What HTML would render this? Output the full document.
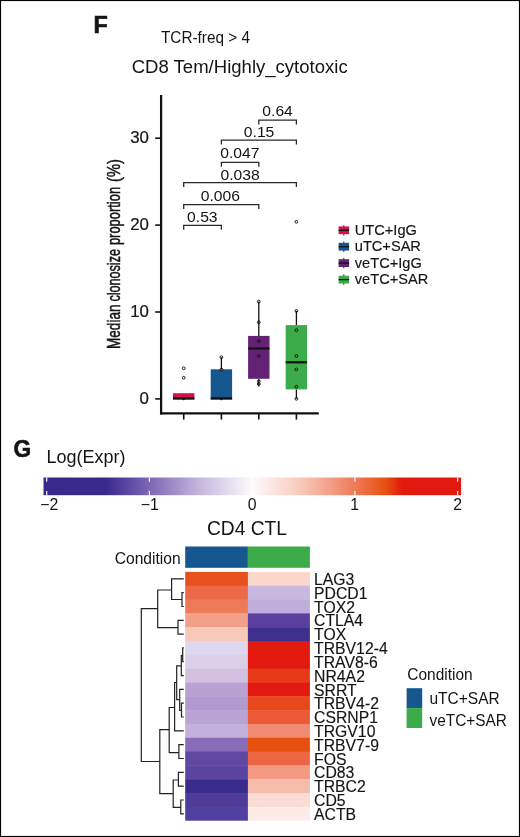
<!DOCTYPE html>
<html lang="en"><head><meta charset="utf-8"><title>Figure F-G</title>
<style>html,body{margin:0;padding:0;background:#fff}body{width:520px;height:837px;overflow:hidden}svg{display:block;will-change:transform}text{font-family:"Liberation Sans", Arial, Helvetica, sans-serif;fill:#141414}</style></head><body>
<svg width="520" height="837" viewBox="0 0 520 837">
<rect x="0" y="0" width="520" height="837" fill="#fff"/>
<rect x="0.5" y="0.5" width="519" height="836" fill="none" stroke="#000" stroke-width="1.15"/>
<text transform="translate(93.6,33.1) scale(1.01,1)" font-size="23.2" font-weight="bold" stroke="#141414" stroke-width="0.6">F</text>
<text x="161.00" y="43.00" font-size="16" text-anchor="start" textLength="89.00" lengthAdjust="spacingAndGlyphs" >TCR-freq &gt; 4</text>
<text x="131.70" y="73.30" font-size="19.2" text-anchor="start" textLength="216.00" lengthAdjust="spacingAndGlyphs" >CD8 Tem/Highly_cytotoxic</text>
<g stroke="#111" fill="none">
<line x1="161.1" y1="95" x2="161.1" y2="414.40000000000003" stroke-width="2.25"/>
<line x1="160.0" y1="413.3" x2="318.8" y2="413.3" stroke-width="2.25"/>
<line x1="155.2" y1="398.9" x2="161.1" y2="398.9" stroke-width="1.6"/>
<line x1="155.2" y1="312.0" x2="161.1" y2="312.0" stroke-width="1.6"/>
<line x1="155.2" y1="225.1" x2="161.1" y2="225.1" stroke-width="1.6"/>
<line x1="155.2" y1="138.2" x2="161.1" y2="138.2" stroke-width="1.6"/>
<line x1="183.7" y1="413.3" x2="183.7" y2="419.6" stroke-width="1.6"/>
<line x1="221.4" y1="413.3" x2="221.4" y2="419.6" stroke-width="1.6"/>
<line x1="258.8" y1="413.3" x2="258.8" y2="419.6" stroke-width="1.6"/>
<line x1="296.4" y1="413.3" x2="296.4" y2="419.6" stroke-width="1.6"/>
</g>
<text x="149.00" y="403.70" font-size="16.2" text-anchor="end" textLength="9.39" lengthAdjust="spacingAndGlyphs" stroke="#141414" stroke-width="0.2">0</text>
<text x="149.00" y="316.80" font-size="16.2" text-anchor="end" textLength="18.78" lengthAdjust="spacingAndGlyphs" stroke="#141414" stroke-width="0.2">10</text>
<text x="149.00" y="229.90" font-size="16.2" text-anchor="end" textLength="18.78" lengthAdjust="spacingAndGlyphs" stroke="#141414" stroke-width="0.2">20</text>
<text x="149.00" y="143.00" font-size="16.2" text-anchor="end" textLength="18.78" lengthAdjust="spacingAndGlyphs" stroke="#141414" stroke-width="0.2">30</text>
<text transform="translate(119.9,348) rotate(-90)" font-size="18.8" stroke="#141414" stroke-width="0.5"><tspan x="-0.9" textLength="44.3" lengthAdjust="spacingAndGlyphs">Median</tspan><tspan x="46.4" textLength="52.6" lengthAdjust="spacingAndGlyphs">clonosize</tspan><tspan x="102.9" textLength="58.2" lengthAdjust="spacingAndGlyphs">proportion</tspan><tspan x="166.0" textLength="22.9" lengthAdjust="spacingAndGlyphs">(%)</tspan></text>
<g stroke="#2a2a2a" stroke-width="1.3" fill="none">
<path d="M258.8 124.60000000000001V120.2H296.4V124.60000000000001"/>
<path d="M221.4 144.6V140.2H296.4V144.6"/>
<path d="M221.4 166.70000000000002V162.3H258.8V166.70000000000002"/>
<path d="M183.7 187.1V182.7H296.4V187.1"/>
<path d="M183.7 209.0V204.6H258.8V209.0"/>
<path d="M183.7 229.70000000000002V225.3H221.4V229.70000000000002"/>
</g>
<text x="277.60" y="115.50" font-size="15.0" text-anchor="middle" textLength="30.52" lengthAdjust="spacingAndGlyphs" >0.64</text>
<text x="259.10" y="136.90" font-size="15.0" text-anchor="middle" textLength="30.52" lengthAdjust="spacingAndGlyphs" >0.15</text>
<text x="239.80" y="158.20" font-size="15.0" text-anchor="middle" textLength="39.24" lengthAdjust="spacingAndGlyphs" >0.047</text>
<text x="240.05" y="179.50" font-size="15.0" text-anchor="middle" textLength="39.24" lengthAdjust="spacingAndGlyphs" >0.038</text>
<text x="220.35" y="201.30" font-size="15.0" text-anchor="middle" textLength="39.24" lengthAdjust="spacingAndGlyphs" >0.006</text>
<text x="202.35" y="221.70" font-size="15.0" text-anchor="middle" textLength="30.52" lengthAdjust="spacingAndGlyphs" >0.53</text>
<rect x="173.00" y="393.2" width="21.4" height="6.30" fill="#d31245"/>
<line x1="173.00" y1="398.4" x2="194.40" y2="398.4" stroke="#111" stroke-width="2.2"/>
<circle cx="183.7" cy="368.3" r="1.4" fill="none" stroke="#111" stroke-width="0.95"/>
<circle cx="183.7" cy="377.8" r="1.4" fill="none" stroke="#111" stroke-width="0.95"/>
<circle cx="183.7" cy="399" r="1.2" fill="#111"/>
<line x1="221.4" y1="357.3" x2="221.4" y2="369.3" stroke="#111" stroke-width="1.3"/>
<rect x="210.70" y="369.3" width="21.4" height="30.20" fill="#16578f"/>
<line x1="210.70" y1="398.4" x2="232.10" y2="398.4" stroke="#111" stroke-width="2.2"/>
<circle cx="221.4" cy="357.2" r="1.4" fill="none" stroke="#111" stroke-width="0.95"/>
<circle cx="221.4" cy="369.6" r="1.4" fill="none" stroke="#111" stroke-width="0.95"/>
<circle cx="221.4" cy="399" r="1.2" fill="#111"/>
<line x1="258.8" y1="301.6" x2="258.8" y2="335.9" stroke="#111" stroke-width="1.3"/>
<line x1="258.8" y1="378.8" x2="258.8" y2="386.6" stroke="#111" stroke-width="1.3"/>
<rect x="248.10" y="335.9" width="21.4" height="42.90" fill="#632274"/>
<line x1="248.10" y1="348.5" x2="269.50" y2="348.5" stroke="#111" stroke-width="2.2"/>
<circle cx="258.8" cy="301.5" r="1.4" fill="none" stroke="#111" stroke-width="0.95"/>
<circle cx="258.8" cy="322.3" r="1.4" fill="none" stroke="#111" stroke-width="0.95"/>
<circle cx="258.8" cy="341.0" r="1.4" fill="none" stroke="#111" stroke-width="0.95"/>
<circle cx="258.8" cy="355.9" r="1.4" fill="none" stroke="#111" stroke-width="0.95"/>
<circle cx="258.8" cy="381.4" r="1.4" fill="none" stroke="#111" stroke-width="0.95"/>
<circle cx="258.8" cy="384.0" r="1.4" fill="none" stroke="#111" stroke-width="0.95"/>
<line x1="296.4" y1="310.9" x2="296.4" y2="325.1" stroke="#111" stroke-width="1.3"/>
<line x1="296.4" y1="389.4" x2="296.4" y2="398.6" stroke="#111" stroke-width="1.3"/>
<rect x="285.70" y="325.1" width="21.4" height="64.30" fill="#3cac4a"/>
<line x1="285.70" y1="362.3" x2="307.10" y2="362.3" stroke="#111" stroke-width="2.2"/>
<circle cx="296.4" cy="221.8" r="1.4" fill="none" stroke="#111" stroke-width="0.95"/>
<circle cx="296.4" cy="310.9" r="1.4" fill="none" stroke="#111" stroke-width="0.95"/>
<circle cx="296.4" cy="330.2" r="1.4" fill="none" stroke="#111" stroke-width="0.95"/>
<circle cx="296.4" cy="355.9" r="1.4" fill="none" stroke="#111" stroke-width="0.95"/>
<circle cx="296.4" cy="369.4" r="1.4" fill="none" stroke="#111" stroke-width="0.95"/>
<circle cx="296.4" cy="386.8" r="1.4" fill="none" stroke="#111" stroke-width="0.95"/>
<circle cx="296.4" cy="398.8" r="1.4" fill="none" stroke="#111" stroke-width="0.95"/>
<line x1="343.8" y1="225.10000000000002" x2="343.8" y2="235.5" stroke="#222" stroke-width="1"/>
<rect x="338.6" y="226.4" width="10.5" height="7.8" fill="#d31245"/>
<line x1="338.6" y1="230.3" x2="349.1" y2="230.3" stroke="#111" stroke-width="1.3"/>
<text x="354.80" y="234.80" font-size="15.3" text-anchor="start" textLength="62.06" lengthAdjust="spacingAndGlyphs" stroke="#141414" stroke-width="0.15">UTC+IgG</text>
<line x1="343.8" y1="241.5" x2="343.8" y2="251.89999999999998" stroke="#222" stroke-width="1"/>
<rect x="338.6" y="242.8" width="10.5" height="7.8" fill="#16578f"/>
<line x1="338.6" y1="246.7" x2="349.1" y2="246.7" stroke="#111" stroke-width="1.3"/>
<text x="354.80" y="251.20" font-size="15.3" text-anchor="start" textLength="66.13" lengthAdjust="spacingAndGlyphs" stroke="#141414" stroke-width="0.15">uTC+SAR</text>
<line x1="343.8" y1="257.90000000000003" x2="343.8" y2="268.3" stroke="#222" stroke-width="1"/>
<rect x="338.6" y="259.2" width="10.5" height="7.8" fill="#632274"/>
<line x1="338.6" y1="263.1" x2="349.1" y2="263.1" stroke="#111" stroke-width="1.3"/>
<text x="354.80" y="267.60" font-size="15.3" text-anchor="start" textLength="66.94" lengthAdjust="spacingAndGlyphs" stroke="#141414" stroke-width="0.15">veTC+IgG</text>
<line x1="343.8" y1="274.40000000000003" x2="343.8" y2="284.8" stroke="#222" stroke-width="1"/>
<rect x="338.6" y="275.7" width="10.5" height="7.8" fill="#3cac4a"/>
<line x1="338.6" y1="279.6" x2="349.1" y2="279.6" stroke="#111" stroke-width="1.3"/>
<text x="354.80" y="284.10" font-size="15.3" text-anchor="start" textLength="73.43" lengthAdjust="spacingAndGlyphs" stroke="#141414" stroke-width="0.15">veTC+SAR</text>
<text transform="translate(13.6,457.4) scale(0.935,1)" font-size="24.3" font-weight="bold" stroke="#141414" stroke-width="0.6">G</text>
<text x="46.50" y="463.20" font-size="18.7" text-anchor="start" textLength="79.00" lengthAdjust="spacingAndGlyphs" >Log(Expr)</text>
<defs><linearGradient id="cb" gradientUnits="userSpaceOnUse" x1="43.5" y1="0" x2="461.1" y2="0">
<stop offset="0.0000" stop-color="#38288c"/>
<stop offset="0.1503" stop-color="#3a2a8e"/>
<stop offset="0.2536" stop-color="#7d66b6"/>
<stop offset="0.3766" stop-color="#c6b9de"/>
<stop offset="0.4996" stop-color="#fdfbfd"/>
<stop offset="0.6226" stop-color="#f8c6b6"/>
<stop offset="0.7456" stop-color="#ee7a5a"/>
<stop offset="0.8194" stop-color="#e8500f"/>
<stop offset="0.8588" stop-color="#e2190e"/>
<stop offset="1.0000" stop-color="#e2190e"/>
</linearGradient></defs>
<rect x="43.5" y="477.5" width="417.6" height="17.7" fill="url(#cb)"/>
<line x1="46.7" y1="477.5" x2="46.7" y2="481.7" stroke="#fff" stroke-width="1.2"/>
<line x1="46.7" y1="491.0" x2="46.7" y2="495.2" stroke="#fff" stroke-width="1.2"/>
<line x1="149.4" y1="477.5" x2="149.4" y2="481.7" stroke="#fff" stroke-width="1.2"/>
<line x1="149.4" y1="491.0" x2="149.4" y2="495.2" stroke="#fff" stroke-width="1.2"/>
<line x1="252.2" y1="477.5" x2="252.2" y2="481.7" stroke="#fff" stroke-width="1.2"/>
<line x1="252.2" y1="491.0" x2="252.2" y2="495.2" stroke="#fff" stroke-width="1.2"/>
<line x1="354.9" y1="477.5" x2="354.9" y2="481.7" stroke="#fff" stroke-width="1.2"/>
<line x1="354.9" y1="491.0" x2="354.9" y2="495.2" stroke="#fff" stroke-width="1.2"/>
<line x1="457.6" y1="477.5" x2="457.6" y2="481.7" stroke="#fff" stroke-width="1.2"/>
<line x1="457.6" y1="491.0" x2="457.6" y2="495.2" stroke="#fff" stroke-width="1.2"/>
<text x="49.19" y="510.30" font-size="15.8" text-anchor="middle" >−2</text>
<text x="149.72" y="510.30" font-size="15.8" text-anchor="middle" >−1</text>
<text x="252.15" y="510.30" font-size="15.8" text-anchor="middle" >0</text>
<text x="354.58" y="510.30" font-size="15.8" text-anchor="middle" >1</text>
<text x="457.61" y="510.30" font-size="15.8" text-anchor="middle" >2</text>
<text x="207.00" y="534.70" font-size="19.6" text-anchor="start" textLength="80.00" lengthAdjust="spacingAndGlyphs" >CD4 CTL</text>
<text x="114.70" y="564.20" font-size="15.6" text-anchor="start" textLength="66.00" lengthAdjust="spacingAndGlyphs" >Condition</text>
<g>
<rect x="185.2" y="546.5" width="62.7" height="21.3" fill="#16578f"/>
<rect x="247.9" y="546.5" width="62.0" height="21.3" fill="#3cac4a"/>
</g>
<rect x="185.2" y="571.90" width="62.9" height="14.22" fill="#e8501e"/>
<rect x="247.9" y="571.90" width="62.0" height="14.22" fill="#fad8cc"/>
<rect x="185.2" y="585.72" width="62.9" height="14.22" fill="#ec6a48"/>
<rect x="247.9" y="585.72" width="62.0" height="14.22" fill="#c8b8de"/>
<rect x="185.2" y="599.54" width="62.9" height="14.22" fill="#ee7a5a"/>
<rect x="247.9" y="599.54" width="62.0" height="14.22" fill="#bfaedb"/>
<rect x="185.2" y="613.37" width="62.9" height="14.22" fill="#f2a088"/>
<rect x="247.9" y="613.37" width="62.0" height="14.22" fill="#5a3f9e"/>
<rect x="185.2" y="627.19" width="62.9" height="14.22" fill="#f8c8b8"/>
<rect x="247.9" y="627.19" width="62.0" height="14.22" fill="#3f2f8f"/>
<rect x="185.2" y="641.01" width="62.9" height="14.22" fill="#dcd6ee"/>
<rect x="247.9" y="641.01" width="62.0" height="14.22" fill="#e2190e"/>
<rect x="185.2" y="654.83" width="62.9" height="14.22" fill="#dcd0e8"/>
<rect x="247.9" y="654.83" width="62.0" height="14.22" fill="#e2190e"/>
<rect x="185.2" y="668.66" width="62.9" height="14.22" fill="#d2c0e0"/>
<rect x="247.9" y="668.66" width="62.0" height="14.22" fill="#e63a18"/>
<rect x="185.2" y="682.48" width="62.9" height="14.22" fill="#b9a2d2"/>
<rect x="247.9" y="682.48" width="62.0" height="14.22" fill="#e2190e"/>
<rect x="185.2" y="696.30" width="62.9" height="14.22" fill="#b09acf"/>
<rect x="247.9" y="696.30" width="62.0" height="14.22" fill="#e8481c"/>
<rect x="185.2" y="710.12" width="62.9" height="14.22" fill="#b8a4d4"/>
<rect x="247.9" y="710.12" width="62.0" height="14.22" fill="#ea5a34"/>
<rect x="185.2" y="723.94" width="62.9" height="14.22" fill="#c4b0dc"/>
<rect x="247.9" y="723.94" width="62.0" height="14.22" fill="#f08a70"/>
<rect x="185.2" y="737.77" width="62.9" height="14.22" fill="#8a6cba"/>
<rect x="247.9" y="737.77" width="62.0" height="14.22" fill="#e8500f"/>
<rect x="185.2" y="751.59" width="62.9" height="14.22" fill="#6048a0"/>
<rect x="247.9" y="751.59" width="62.0" height="14.22" fill="#ec6644"/>
<rect x="185.2" y="765.41" width="62.9" height="14.22" fill="#5c45a0"/>
<rect x="247.9" y="765.41" width="62.0" height="14.22" fill="#f29a82"/>
<rect x="185.2" y="779.23" width="62.9" height="14.22" fill="#3a2c8c"/>
<rect x="247.9" y="779.23" width="62.0" height="14.22" fill="#f6bcaa"/>
<rect x="185.2" y="793.06" width="62.9" height="14.22" fill="#4e3c98"/>
<rect x="247.9" y="793.06" width="62.0" height="14.22" fill="#fadcd2"/>
<rect x="185.2" y="806.88" width="62.9" height="14.22" fill="#5040a0"/>
<rect x="247.9" y="806.88" width="62.0" height="14.22" fill="#fcece8"/>
<rect x="184.2" y="820.7" width="126.7" height="1.2" fill="#fff"/>
<text x="314.10" y="584.96" font-size="16.2" text-anchor="start" textLength="40.30" lengthAdjust="spacingAndGlyphs" stroke="#141414" stroke-width="0.15">LAG3</text>
<text x="314.10" y="598.78" font-size="16.2" text-anchor="start" textLength="53.42" lengthAdjust="spacingAndGlyphs" stroke="#141414" stroke-width="0.15">PDCD1</text>
<text x="314.10" y="612.61" font-size="16.2" text-anchor="start" textLength="40.88" lengthAdjust="spacingAndGlyphs" stroke="#141414" stroke-width="0.15">TOX2</text>
<text x="314.10" y="626.43" font-size="16.2" text-anchor="start" textLength="49.05" lengthAdjust="spacingAndGlyphs" stroke="#141414" stroke-width="0.15">CTLA4</text>
<text x="314.10" y="640.25" font-size="16.2" text-anchor="start" textLength="32.11" lengthAdjust="spacingAndGlyphs" stroke="#141414" stroke-width="0.15">TOX</text>
<text x="314.10" y="654.07" font-size="16.2" text-anchor="start" textLength="73.57" lengthAdjust="spacingAndGlyphs" stroke="#141414" stroke-width="0.15">TRBV12-4</text>
<text x="314.10" y="667.89" font-size="16.2" text-anchor="start" textLength="63.64" lengthAdjust="spacingAndGlyphs" stroke="#141414" stroke-width="0.15">TRAV8-6</text>
<text x="314.10" y="681.72" font-size="16.2" text-anchor="start" textLength="50.80" lengthAdjust="spacingAndGlyphs" stroke="#141414" stroke-width="0.15">NR4A2</text>
<text x="314.10" y="695.54" font-size="16.2" text-anchor="start" textLength="42.62" lengthAdjust="spacingAndGlyphs" stroke="#141414" stroke-width="0.15">SRRT</text>
<text x="314.10" y="709.36" font-size="16.2" text-anchor="start" textLength="64.81" lengthAdjust="spacingAndGlyphs" stroke="#141414" stroke-width="0.15">TRBV4-2</text>
<text x="314.10" y="723.18" font-size="16.2" text-anchor="start" textLength="63.93" lengthAdjust="spacingAndGlyphs" stroke="#141414" stroke-width="0.15">CSRNP1</text>
<text x="314.10" y="737.01" font-size="16.2" text-anchor="start" textLength="61.31" lengthAdjust="spacingAndGlyphs" stroke="#141414" stroke-width="0.15">TRGV10</text>
<text x="314.10" y="750.83" font-size="16.2" text-anchor="start" textLength="64.81" lengthAdjust="spacingAndGlyphs" stroke="#141414" stroke-width="0.15">TRBV7-9</text>
<text x="314.10" y="764.65" font-size="16.2" text-anchor="start" textLength="32.40" lengthAdjust="spacingAndGlyphs" stroke="#141414" stroke-width="0.15">FOS</text>
<text x="314.10" y="778.47" font-size="16.2" text-anchor="start" textLength="40.29" lengthAdjust="spacingAndGlyphs" stroke="#141414" stroke-width="0.15">CD83</text>
<text x="314.10" y="792.29" font-size="16.2" text-anchor="start" textLength="51.66" lengthAdjust="spacingAndGlyphs" stroke="#141414" stroke-width="0.15">TRBC2</text>
<text x="314.10" y="806.12" font-size="16.2" text-anchor="start" textLength="31.53" lengthAdjust="spacingAndGlyphs" stroke="#141414" stroke-width="0.15">CD5</text>
<text x="314.10" y="819.94" font-size="16.2" text-anchor="start" textLength="42.03" lengthAdjust="spacingAndGlyphs" stroke="#141414" stroke-width="0.15">ACTB</text>
<path d="M183.8 592.6H182V606.5H183.8 M183.8 578.8H171.6V599.5H182 M183.8 620.3H178V634.1H183.8 M171.6 590.0H157.7V627.6H178 M157.7 608.7H141.3V761.5H159.8 M169.2 729.7H159.8V793.7H173.2 M174.6 707.5H169.2V752.6H178.9 M183.8 744.7H178.9V758.5H183.8 M176.7 682.5H174.6V730.9H183.8 M181.3 665.8H176.7V699.6H179.7 M183.8 647.9H182.7V661.7H183.8 M182.7 655.5H181.3V675.6H183.8 M183.8 689.4H179.7V710.5H181.5 M183.8 703.2H181.5V717.0H183.8 M178.4 780.0H173.2V807.4H180.8 M183.8 772.3H178.4V786.1H183.8 M183.8 800.0H180.8V813.8H183.8" fill="none" stroke="#222" stroke-width="1.2"/>
<text x="407.30" y="680.20" font-size="16.1" text-anchor="start" textLength="65.30" lengthAdjust="spacingAndGlyphs" >Condition</text>
<rect x="406.6" y="688.2" width="15.6" height="20" fill="#16578f"/>
<rect x="406.6" y="708.1" width="15.6" height="19.9" fill="#3cac4a"/>
<text x="429.50" y="704.20" font-size="16.1" text-anchor="start" textLength="70.24" lengthAdjust="spacingAndGlyphs" >uTC+SAR</text>
<text x="429.50" y="725.60" font-size="16.1" text-anchor="start" textLength="77.40" lengthAdjust="spacingAndGlyphs" >veTC+SAR</text>
</svg></body></html>
